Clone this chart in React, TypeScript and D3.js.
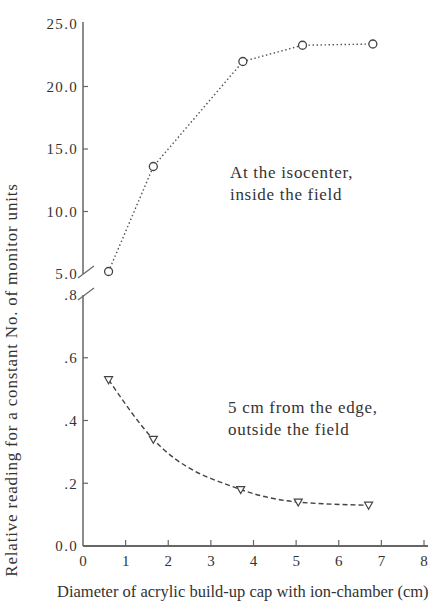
import React from "react";
import * as d3 from "d3";

const isoX = [0.6, 1.65, 3.75, 5.15, 6.8];
const isoY = [5.2, 13.6, 22.0, 23.3, 23.4];
const edgeX = [0.6, 1.65, 3.7, 5.05, 6.7];
const edgeY = [0.53, 0.34, 0.18, 0.14, 0.13];
const upperTicks = [5, 10, 15, 20, 25];
const upperLabels = ["5.0", "10.0", "15.0", "20.0", "25.0"];
const lowerTicks = [0, 0.2, 0.4, 0.6, 0.8];
const lowerLabels = ["0.0", ".2", ".4", ".6", ".8"];
const xTicks = [0, 1, 2, 3, 4, 5, 6, 7, 8];
const yTitle = "Relative reading for a constant No. of monitor units";
const xTitle = "Diameter of acrylic build-up cap with ion-chamber (cm)";
const isoNote = ["At the isocenter,", "inside the field"];
const edgeNote = ["5 cm from the edge,", "outside the field"];

export default function App() {
  const W = 446, H = 602;
  const x = d3.scaleLinear().domain([0, 8]).range([83, 424]);
  const yUp = d3.scaleLinear().domain([5, 25]).range([274, 24]);
  const yLow = d3.scaleLinear().domain([0, 0.8]).range([546, 295]);
  const font = "'Liberation Serif', 'DejaVu Serif', serif";
  const ink = "#333";
  const axisC = "#666";

  const upPts: [number, number][] = isoX.map((v, i) => [x(v), yUp(isoY[i])]);
  const lowPts: [number, number][] = edgeX.map((v, i) => [x(v), yLow(edgeY[i])]);
  const upLine = d3.line().curve(d3.curveLinear);
  const lowLine = d3.line().curve(d3.curveMonotoneX);

  const tri = (cx: number, cy: number) =>
    `M${cx - 4},${cy - 3}L${cx + 4},${cy - 3}L${cx},${cy + 4}Z`;

  return (
    <svg width={W} height={H} style={{ position: "absolute", left: 0, top: 0, background: "#fff" }}
      fontFamily={font}>
      {/* upper y axis */}
      <line x1={x(0)} x2={x(0)} y1={yUp(25) - 2} y2={yUp(5)} stroke={axisC} strokeWidth={1.5} />
      {upperTicks.map((t, i) => (
        <g key={"u" + i}>
          {i > 0 && i < upperTicks.length - 1 && (
            <line x1={x(0)} x2={x(0) + 5} y1={yUp(t)} y2={yUp(t)} stroke={axisC} strokeWidth={1.2} />
          )}
          <text x={x(0) - 5} y={yUp(t)} dy="0.35em" textAnchor="end" fontSize={15} letterSpacing={1.3} fill={ink}>
            {upperLabels[i]}
          </text>
        </g>
      ))}
      {/* lower y axis */}
      <line x1={x(0)} x2={x(0)} y1={yLow(0.8)} y2={yLow(0)} stroke={axisC} strokeWidth={1.5} />
      {lowerTicks.map((t, i) => (
        <g key={"l" + i}>
          {i > 0 && i < lowerTicks.length - 1 && (
            <line x1={x(0)} x2={x(0) + 5} y1={yLow(t)} y2={yLow(t)} stroke={axisC} strokeWidth={1.2} />
          )}
          <text x={x(0) - 5} y={yLow(t)} dy="0.35em" textAnchor="end" fontSize={15} letterSpacing={1.3} fill={ink}>
            {lowerLabels[i]}
          </text>
        </g>
      ))}
      {/* break marks */}
      <line x1={x(0) - 5} y1={yUp(5) + 4} x2={x(0) + 11} y2={yUp(5) - 8} stroke={axisC} strokeWidth={1.2} />
      <line x1={x(0) - 5} y1={yLow(0.8) + 5} x2={x(0) + 11} y2={yLow(0.8) - 7} stroke={axisC} strokeWidth={1.2} />
      {/* x axis */}
      <line x1={x(0)} x2={x(8) + 4} y1={yLow(0)} y2={yLow(0)} stroke={axisC} strokeWidth={2} />
      {xTicks.map((t) => (
        <g key={"x" + t}>
          {t > 0 && (
            <line x1={x(t)} x2={x(t)} y1={yLow(0)} y2={yLow(0) - 6} stroke={axisC} strokeWidth={1.2} />
          )}
          <text x={x(t)} y={yLow(0) + 20} textAnchor="middle" fontSize={15} fill={ink}>
            {t}
          </text>
        </g>
      ))}
      {/* upper series */}
      <path d={upLine(upPts) || ""} fill="none" stroke="#555" strokeWidth={1.4} strokeDasharray="1.5,2.5" />
      {upPts.map((p, i) => (
        <circle key={"c" + i} cx={p[0]} cy={p[1]} r={4} fill="#fff" stroke="#444" strokeWidth={1.3} />
      ))}
      {/* lower series */}
      <path d={lowLine(lowPts) || ""} fill="none" stroke="#444" strokeWidth={1.4} strokeDasharray="5,3" />
      {lowPts.map((p, i) => (
        <path key={"t" + i} d={tri(p[0], p[1])} fill="#fff" stroke="#444" strokeWidth={1.2} />
      ))}
      {/* notes */}
      {isoNote.map((s, i) => (
        <text key={"n" + i} x={230} y={178 + i * 22} fontSize={17} letterSpacing={0.7} fill={ink}>{s}</text>
      ))}
      {edgeNote.map((s, i) => (
        <text key={"e" + i} x={228} y={413 + i * 22} fontSize={17} letterSpacing={0.7} fill={ink}>{s}</text>
      ))}
      {/* axis titles */}
      <text transform="translate(17,380) rotate(-90)" textAnchor="middle" fontSize={17} letterSpacing={0.8} fill={ink}>
        {yTitle}
      </text>
      <text x={57} y={597} fontSize={16.5} fill={ink}>{xTitle}</text>
    </svg>
  );
}
